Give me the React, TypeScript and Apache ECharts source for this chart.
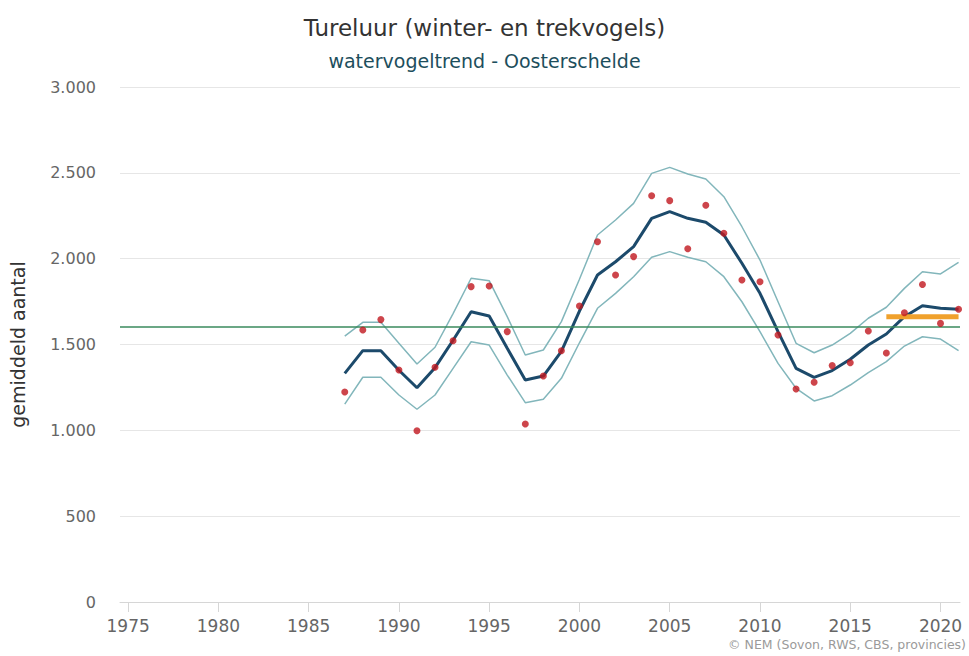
import React, { useEffect, useRef } from "react";
import * as echarts from "echarts";

const titleText = "Tureluur (winter- en trekvogels)";
const subtitleText = "watervogeltrend - Oosterschelde";
const yAxisName = "gemiddeld aantal";
const creditText = "© NEM (Sovon, RWS, CBS, provincies)";

const years = [
  1987, 1988, 1989, 1990, 1991, 1992, 1993, 1994, 1995, 1996, 1997, 1998, 1999,
  2000, 2001, 2002, 2003, 2004, 2005, 2006, 2007, 2008, 2009, 2010, 2011, 2012,
  2013, 2014, 2015, 2016, 2017, 2018, 2019, 2020, 2021,
];
const indexValues = [
  1223, 1584, 1645, 1351, 998, 1367, 1522, 1837, 1841, 1575, 1037, 1316, 1464,
  1724, 2099, 1905, 2012, 2367, 2338, 2058, 2311, 2148, 1876, 1866, 1555, 1241,
  1280, 1377, 1394, 1579, 1450, 1685, 1849, 1623, 1705,
];
const trendValues = [
  1332, 1464, 1464, 1350, 1248, 1365, 1525, 1691, 1666, 1478, 1293, 1316, 1460,
  1695, 1905, 1982, 2070, 2235, 2274, 2235, 2212, 2138, 1973, 1798, 1575, 1361,
  1309, 1348, 1414, 1497, 1561, 1662, 1726, 1711, 1705,
];
const upperValues = [
  1549, 1629, 1629, 1507, 1386, 1484, 1680, 1886, 1872, 1662, 1439, 1468, 1633,
  1880, 2138, 2225, 2322, 2497, 2532, 2493, 2464, 2361, 2186, 1992, 1749, 1507,
  1452, 1497, 1565, 1653, 1717, 1827, 1924, 1911, 1979,
];
const lowerValues = [
  1153, 1309, 1309, 1206, 1123, 1206, 1361, 1516, 1497, 1322, 1161, 1181, 1303,
  1510, 1711, 1798, 1895, 2008, 2041, 2008, 1982, 1895, 1749, 1575, 1390, 1245,
  1171, 1202, 1264, 1336, 1400, 1491, 1545, 1532, 1464,
];
const referenceLevel = 1605;
const recentYears = [2017, 2021];
const recentLevel = 1662;
const xTicks = [1975, 1980, 1985, 1990, 1995, 2000, 2005, 2010, 2015, 2020];

const FONT = "'DejaVu Sans', Verdana, sans-serif";

const pair = (vals: number[]) => years.map((y, i) => [y, vals[i]]);

export default function App() {
  const ref = useRef<HTMLDivElement>(null);
  useEffect(() => {
    if (!ref.current) return;
    const chart = echarts.init(ref.current, null, { renderer: "svg" });
    chart.setOption({
      animation: false,
      backgroundColor: "#ffffff",
      title: [
        {
          text: titleText,
          left: "center",
          top: 16,
          padding: 0,
          textStyle: { fontFamily: FONT, fontSize: 23, fontWeight: "normal", color: "#333333" },
        },
        {
          text: subtitleText,
          left: "center",
          top: 51,
          padding: 0,
          textStyle: { fontFamily: FONT, fontSize: 19, fontWeight: "normal", color: "#1d4e5c" },
        },
        {
          text: creditText,
          right: 3,
          top: 638,
          padding: 0,
          textStyle: { fontFamily: FONT, fontSize: 12.5, fontWeight: "normal", color: "#9a9a9a" },
        },
      ],
      grid: { left: 120, right: 9, top: 87, bottom: 54 },
      xAxis: {
        type: "value",
        min: 1974.55,
        max: 2021.08,
        axisLine: { show: true, lineStyle: { color: "#d6d6d6", width: 1 } },
        axisTick: { show: true, customValues: xTicks, length: 10, lineStyle: { color: "#d6d6d6" } },
        axisLabel: {
          customValues: xTicks,
          margin: 15,
          fontFamily: FONT,
          fontSize: 17,
          color: "#666666",
          formatter: (v: number) => String(v),
        },
        splitLine: { show: false },
      },
      yAxis: {
        type: "value",
        min: 0,
        max: 3000,
        interval: 500,
        name: yAxisName,
        nameLocation: "middle",
        nameGap: 93,
        nameTextStyle: { fontFamily: FONT, fontSize: 19, color: "#333333" },
        axisLine: { show: false },
        axisTick: { show: false },
        axisLabel: {
          margin: 24,
          fontFamily: FONT,
          fontSize: 16,
          color: "#666666",
          formatter: (v: number) => String(v).replace(/\B(?=(\d{3})+(?!\d))/g, "."),
        },
        splitLine: { lineStyle: { color: "#e6e6e6", width: 1 } },
      },
      series: [
        {
          type: "line",
          name: "referentie",
          data: [],
          silent: true,
          markLine: {
            symbol: "none",
            silent: true,
            label: { show: false },
            lineStyle: { color: "#3a8a5c", width: 1.5, type: "solid" },
            data: [{ yAxis: referenceLevel }],
          },
        },
        {
          type: "line",
          name: "bovengrens",
          data: pair(upperValues),
          showSymbol: false,
          lineStyle: { color: "#82b6bb", width: 1.5 },
          z: 2,
        },
        {
          type: "line",
          name: "ondergrens",
          data: pair(lowerValues),
          showSymbol: false,
          lineStyle: { color: "#82b6bb", width: 1.5 },
          z: 2,
        },
        {
          type: "line",
          name: "trend",
          data: pair(trendValues),
          showSymbol: false,
          lineStyle: { color: "#1c4a6b", width: 3 },
          z: 3,
        },
        {
          type: "line",
          name: "recent",
          data: recentYears.map((y) => [y, recentLevel]),
          showSymbol: false,
          lineStyle: { color: "#f0a12c", width: 5 },
          z: 4,
        },
        {
          type: "scatter",
          name: "index",
          data: pair(indexValues),
          symbolSize: 7,
          itemStyle: { color: "#c0161e" },
          z: 5,
        },
      ],
    });
    return () => chart.dispose();
  }, []);
  return (
    <div
      ref={ref}
      style={{ position: "absolute", left: 0, top: 0, width: 969, height: 656 }}
    />
  );
}
